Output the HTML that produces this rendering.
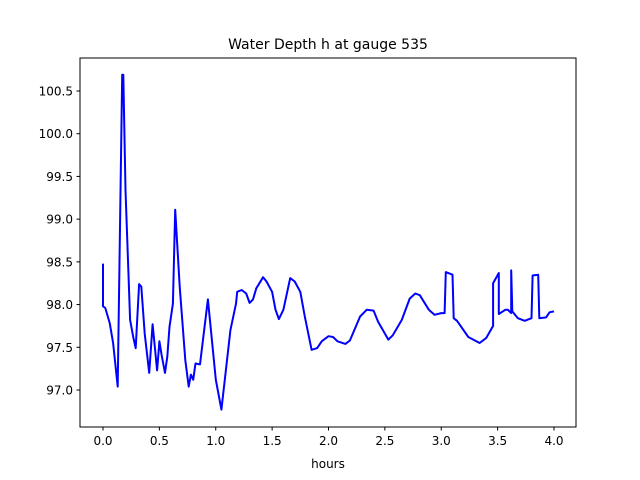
<!DOCTYPE html>
<html><head><meta charset="utf-8"><style>
body{margin:0;background:#fff;}
svg{display:block;font-family:"DejaVu Sans","Liberation Sans",sans-serif;}
</style></head><body>
<svg id="chart" width="640" height="480">
<rect width="640" height="480" fill="#fff"/>
<text x="328" y="49" text-anchor="middle" font-size="14">Water Depth h at gauge 535</text>
<text x="328" y="468" text-anchor="middle" font-size="12">hours</text>
<g id="ticks"></g>
<path id="series" fill="none" stroke="#0000ff" stroke-width="2" stroke-linejoin="round"/>
<rect x="80" y="58" width="496" height="369" fill="none" stroke="#000" stroke-width="1"/>
</svg>
<script>
const hours=[0.00,0.00,0.02,0.06,0.09,0.13,0.17,0.18,0.20,0.24,0.27,0.29,0.32,0.34,0.37,0.41,0.44,0.48,0.50,0.52,0.55,0.57,0.59,0.62,0.64,0.68,0.73,0.76,0.78,0.80,0.82,0.86,0.93,1.00,1.05,1.08,1.13,1.18,1.19,1.23,1.27,1.30,1.33,1.36,1.42,1.45,1.50,1.53,1.56,1.60,1.66,1.70,1.75,1.79,1.85,1.90,1.94,2.00,2.04,2.08,2.15,2.19,2.28,2.34,2.40,2.44,2.53,2.57,2.65,2.72,2.77,2.81,2.89,2.94,3.00,3.03,3.04,3.10,3.11,3.14,3.24,3.34,3.40,3.46,3.46,3.51,3.51,3.57,3.59,3.62,3.62,3.63,3.68,3.74,3.80,3.81,3.86,3.87,3.93,3.96,4.00];
const depth=[98.48,97.98,97.96,97.78,97.55,97.04,100.69,100.69,99.34,97.82,97.61,97.49,98.24,98.21,97.66,97.20,97.77,97.23,97.57,97.41,97.20,97.39,97.74,98.01,99.11,98.21,97.35,97.04,97.18,97.12,97.31,97.30,98.06,97.12,96.77,97.12,97.70,98.01,98.15,98.17,98.13,98.02,98.06,98.19,98.32,98.27,98.15,97.94,97.83,97.94,98.31,98.27,98.15,97.86,97.47,97.49,97.57,97.63,97.62,97.57,97.54,97.58,97.86,97.94,97.93,97.80,97.59,97.64,97.82,98.07,98.13,98.11,97.94,97.88,97.90,97.90,98.38,98.35,97.84,97.81,97.62,97.55,97.61,97.75,98.25,98.37,97.89,97.94,97.94,97.90,98.40,97.92,97.84,97.81,97.84,98.34,98.35,97.84,97.85,97.91,97.92];
const xTicks=[0.0,0.5,1.0,1.5,2.0,2.5,3.0,3.5,4.0];
const xTickLabels=["0.0","0.5","1.0","1.5","2.0","2.5","3.0","3.5","4.0"];
const yTicks=[97.0,97.5,98.0,98.5,99.0,99.5,100.0,100.5];
const yTickLabels=["97.0","97.5","98.0","98.5","99.0","99.5","100.0","100.5"];

const X=t=>103+(t-0)*112.75;
const Y=h=>390-(h-97)*85.43;
const NS="http://www.w3.org/2000/svg";
const g=document.getElementById('ticks');
function mk(tag,attrs){const e=document.createElementNS(NS,tag);for(const k in attrs)e.setAttribute(k,attrs[k]);return e;}
xTicks.forEach((t,i)=>{
  const l=mk('line',{x1:X(t),x2:X(t),y1:427,y2:430.5,stroke:'#000'});
  
  
  g.appendChild(l);
  const tx=mk('text',{x:X(t),y:445,'text-anchor':'middle','font-size':'12'});
  
  
  tx.textContent=xTickLabels[i];g.appendChild(tx);
});
yTicks.forEach((v,i)=>{
  const l=mk('line',{x1:76.5,x2:80,y1:Y(v),y2:Y(v),stroke:'#000'});
  
  
  g.appendChild(l);
  const tx=mk('text',{x:73,y:Y(v)+4.5,'text-anchor':'end','font-size':'12'});
  
  
  tx.textContent=yTickLabels[i];g.appendChild(tx);
});
document.getElementById('series').setAttribute('d',hours.map((t,i)=>(i?'L':'M')+X(t).toFixed(1)+','+Y(depth[i]).toFixed(1)).join(' '));
</script>
</body></html>
